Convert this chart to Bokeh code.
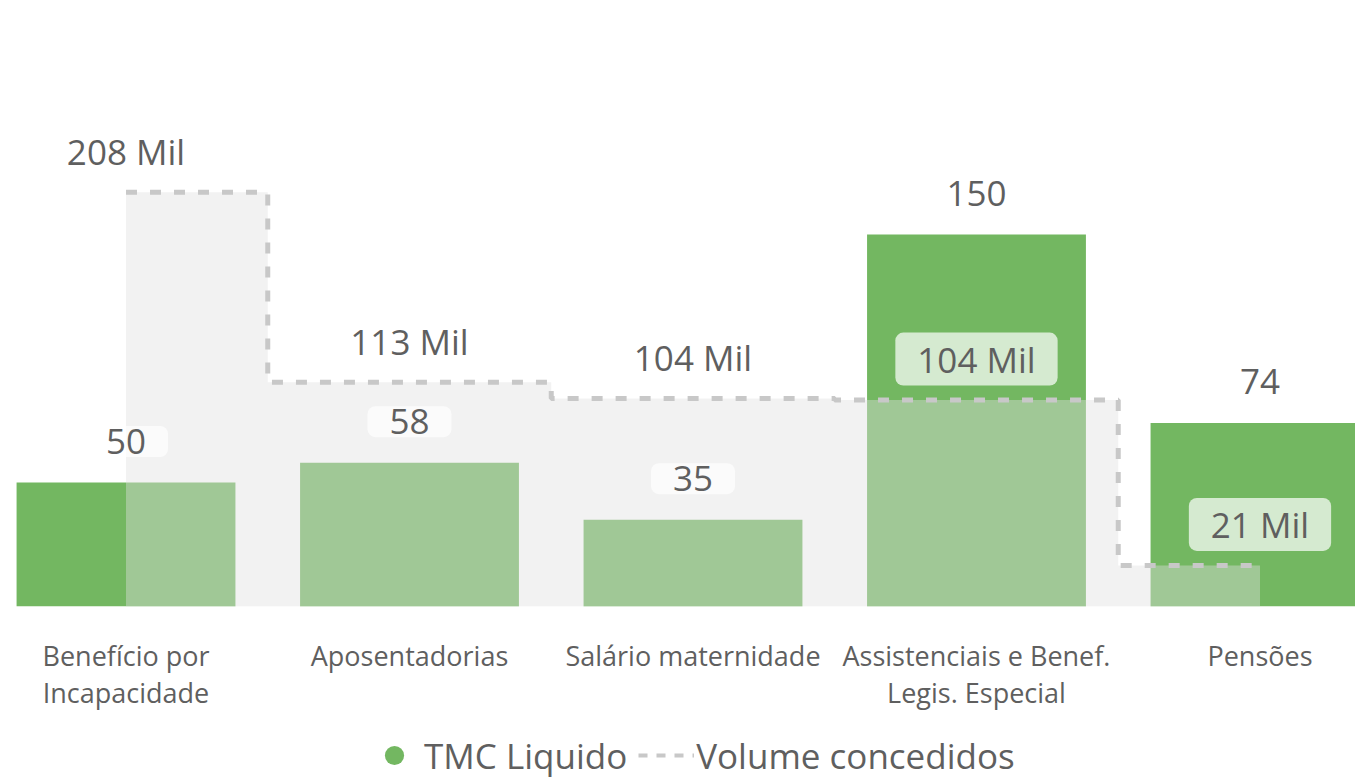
from bokeh.plotting import figure
from bokeh.layouts import column
from bokeh.models import Range1d, FixedTicker, Legend, LegendItem, ColumnDataSource
from bokeh.core.properties import value
from bokeh.embed import file_html
from bokeh.resources import INLINE

# ---- data ----
categories = ["Benefício por\nIncapacidade", "Aposentadorias", "Salário maternidade",
              "Assistenciais e Benef.\nLegis. Especial", "Pensões"]
tmc_liquido = [50, 58, 35, 150, 74]                 # bars
volume_mil = [208.0, 112.6, 104.4, 103.6, 20.6]     # step area (thousands)
series_names = ["TMC Liquido", "Volume concedidos"]

xs = list(range(len(categories)))
tmc_labels = [str(v) for v in tmc_liquido]
vol_labels = [f"{round(v)} Mil" for v in volume_mil]

GREEN = "#73B761"
DASH_GREY = "#c8c8c8"
TEXT = "#5f5f5f"
FONT = "Open Sans"

p = figure(frame_width=1355, frame_height=606,
           x_range=Range1d(-0.4427, 4.3369), y_range=Range1d(0, 244.35),
           output_backend="svg", toolbar_location=None, min_border=0,
           min_border_bottom=104, y_axis_location=None)
p.extra_y_ranges = {"vol": Range1d(0, 304.2)}
p.xgrid.visible = False
p.ygrid.visible = False
p.outline_line_color = None

src = ColumnDataSource(dict(x=xs, tmc=tmc_liquido, vol=volume_mil,
                            tmc_label=tmc_labels, vol_label=vol_labels))

p.vbar(x="x", top="tmc", width=0.772, source=src, fill_color=GREEN, line_color=None)
p.varea_step(x="x", y1=0, y2="vol", step_mode="center", source=src,
             fill_color="#e1e1df", fill_alpha=0.42, y_range_name="vol")
p.step(x="x", y="vol", mode="center", source=src, line_color=DASH_GREY,
       line_width=5, line_dash="11 13", y_range_name="vol")

label_style = dict(text_font=value(FONT), text_font_size="35px", text_color=TEXT,
                   text_align="center", text_baseline="middle",
                   background_fill_color="white", background_fill_alpha=0.7,
                   border_radius=8, padding=dict(left=22, right=22, top=3, bottom=3))
p.text(x="x", y="tmc", text="tmc_label", y_offset=-41, source=src, **label_style)
p.text(x="x", y="vol", text="vol_label", y_offset=-41, source=src,
       y_range_name="vol", **label_style)

p.xaxis.ticker = FixedTicker(ticks=xs)
p.xaxis.major_label_overrides = {i: c for i, c in enumerate(categories)}
p.xaxis.axis_line_color = None
p.xaxis.major_tick_line_color = None
p.xaxis.minor_tick_line_color = None
p.xaxis.major_tick_out = 0
p.xaxis.major_tick_in = 0
p.xaxis.major_label_standoff = 30
p.xaxis.major_label_text_font = FONT
p.xaxis.major_label_text_font_size = "27px"
p.xaxis.major_label_text_color = TEXT
p.xaxis.major_label_text_line_height = 1.0

# ---- legend strip below the chart (series drawn out of view, only the legend shows) ----
lg = figure(width=1355, height=70, output_backend="svg", toolbar_location=None,
            x_range=p.x_range, y_range=Range1d(-2, -1),
            min_border=0, x_axis_location=None, y_axis_location=None)
lg.grid.visible = False
lg.outline_line_color = None
dot = lg.scatter(x="x", y="tmc", source=src, marker="circle", fill_color=GREEN, line_color=None)
dash = lg.line(x="x", y="vol", source=src, line_color=DASH_GREY, line_width=4, line_dash="9 9")

legend = Legend(items=[LegendItem(label=series_names[0], renderers=[dot]),
                       LegendItem(label=series_names[1], renderers=[dash])],
                orientation="horizontal", location=(366, 4),
                glyph_width=56, glyph_height=48, label_standoff=2, spacing=11,
                padding=0, margin=0, border_line_color=None, background_fill_alpha=0,
                label_text_font=FONT, label_text_font_size="35px", label_text_color=TEXT)
lg.add_layout(legend)

layout = column(p, lg, spacing=0)
open("out.html", "w").write(file_html(layout, INLINE))
